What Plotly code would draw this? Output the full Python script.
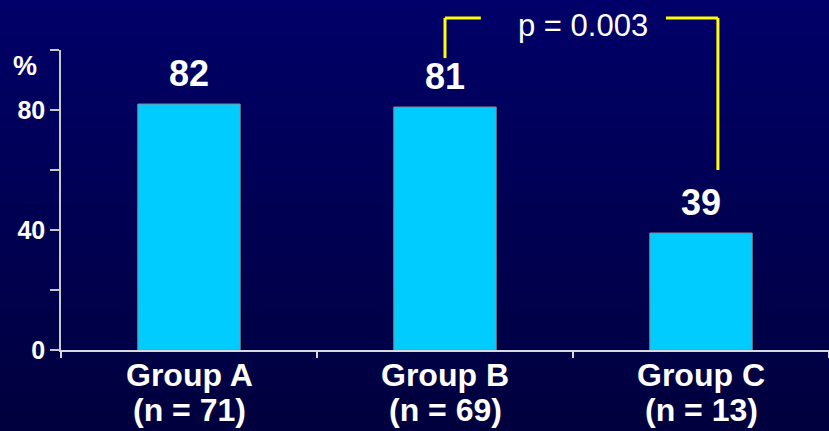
import plotly.graph_objects as go

# Response rate by group
groups = ["Group A", "Group B", "Group C"]
group_sizes = ["n = 71", "n = 69", "n = 13"]
rates = [82, 81, 39]
p_label = "p = 0.003"

y_tickvals = [0, 20, 40, 60, 80, 100]
y_ticktext = ["0", "", "40", "", "80", ""]

W, H = 829, 431
ML, MR, MT, MB = 61, 0, 50, 81
PW, PH = W - ML - MR, H - MT - MB

FONT = "Arial, Liberation Sans, Helvetica, sans-serif"
BAR_COLOR = "#00CCFF"
YELLOW = "#FFFF00"

fig = go.Figure(
    go.Bar(
        x=groups,
        y=rates,
        width=0.4,
        marker=dict(color=BAR_COLOR, line=dict(color="#8a8a8a", width=1)),
        hoverinfo="skip",
    )
)

# vertical navy gradient behind everything
shapes = []
n_strips = 44
top_rgb = (0, 0, 104)
bot_rgb = (0, 0, 62)
x0p = -ML / PW
y0p = -MB / PH
y1p = 1 + MT / PH
for i in range(n_strips):
    t = i / (n_strips - 1)
    r = round(top_rgb[0] + (bot_rgb[0] - top_rgb[0]) * t)
    g = round(top_rgb[1] + (bot_rgb[1] - top_rgb[1]) * t)
    b = round(top_rgb[2] + (bot_rgb[2] - top_rgb[2]) * t)
    ya = y1p - (y1p - y0p) * i / n_strips
    yb = y1p - (y1p - y0p) * (i + 1) / n_strips
    shapes.append(dict(
        type="rect", xref="paper", yref="paper",
        x0=x0p, x1=1.01, y0=yb - 0.002, y1=ya + 0.002,
        fillcolor=f"rgb({r},{g},{b})", line=dict(width=0), layer="below",
    ))

# significance bracket between Group B and Group C
bracket = [
    (1.0, 0.973, 1.0, 1.107),
    (1.0, 1.107, 1.14, 1.107),
    (1.863, 1.107, 2.066, 1.107),
    (2.066, 1.107, 2.066, 0.60),
]
for xa, ya, xb, yb in bracket:
    shapes.append(dict(
        type="line", xref="x", yref="paper",
        x0=xa, y0=ya, x1=xb, y1=yb,
        line=dict(color=YELLOW, width=3),
    ))

annotations = []
# value labels above the bars
for g, v in zip(groups, rates):
    annotations.append(dict(
        x=g, y=v, xref="x", yref="y", text=f"<b>{v}</b>",
        showarrow=False, yanchor="middle", yshift=31,
        font=dict(family=FONT, size=36, color="white"),
    ))
# two-line category labels: name and group size
for g, n in zip(groups, group_sizes):
    annotations.append(dict(
        x=g, y=-0.083, xref="x", yref="paper", text=f"<b>{g}</b>",
        showarrow=False, xanchor="center", yanchor="middle",
        font=dict(family=FONT, size=32, color="white"),
    ))
    annotations.append(dict(
        x=g, y=-0.2, xref="x", yref="paper", text=f"<b>({n})</b>",
        showarrow=False, xanchor="center", yanchor="middle",
        font=dict(family=FONT, size=32, color="white"),
    ))
annotations.append(dict(
    x=1.54, y=1.083, xref="x", yref="paper", text=p_label,
    showarrow=False, xanchor="center", yanchor="middle",
    font=dict(family=FONT, size=31, color="white"),
))
annotations.append(dict(
    x=-ML / PW + 25 / PW, y=(PH + MT - 66) / PH, xref="paper", yref="paper",
    text="<b>%</b>", showarrow=False, xanchor="center", yanchor="middle",
    font=dict(family=FONT, size=27, color="white"),
))

fig.update_layout(
    width=W, height=H,
    margin=dict(l=ML, r=MR, t=MT, b=MB, pad=0),
    paper_bgcolor="#000055",
    plot_bgcolor="rgba(0,0,0,0)",
    showlegend=False,
    shapes=shapes,
    annotations=annotations,
    font=dict(family=FONT, color="white"),
    xaxis=dict(
        range=[-0.5, 2.5],
        showgrid=False, zeroline=False,
        showline=True, linecolor="#d8d8e0", linewidth=2,
        ticks="outside", tickson="boundaries", ticklen=6, tickwidth=1.5,
        tickcolor="#d8d8e0",
        showticklabels=False,
    ),
    yaxis=dict(
        range=[0, 100],
        showgrid=False, zeroline=False,
        showline=True, linecolor="#c8c8d0", linewidth=1.5,
        ticks="outside", ticklen=9, tickwidth=1.5, tickcolor="#c8c8d0",
        tickvals=y_tickvals, ticktext=[f"<b>{t}</b>" if t else "" for t in y_ticktext],
        tickfont=dict(family=FONT, size=25, color="white"),
    ),
)

fig.write_html("out.html")
